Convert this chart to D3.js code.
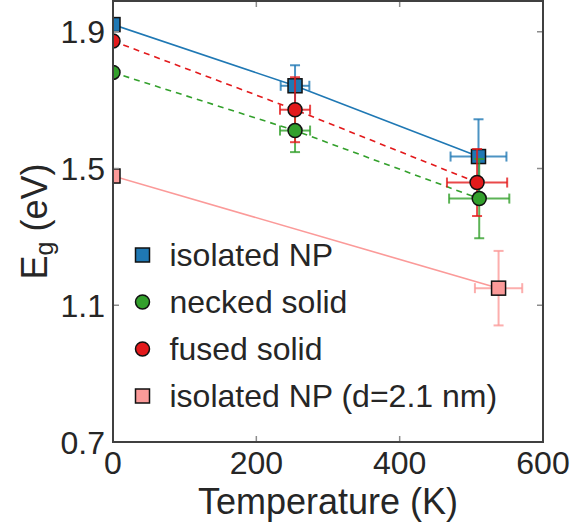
<!DOCTYPE html>
<html>
<head>
<meta charset="utf-8">
<script src="https://cdn.jsdelivr.net/npm/d3@7"></script>
<style>
  body { margin: 0; background: #fff; }
  text { font-family: "Liberation Sans", Arial, sans-serif; fill: #262626; }
</style>
</head>
<body>
<div id="chart"></div>
<script>
// series labels (legend order)
const seriesNames = ["isolated NP", "necked solid", "fused solid", "isolated NP (d=2.1 nm)"];

// isolated NP
const isoT = [0, 254, 510];
const isoEg = [1.921, 1.742, 1.535];
const isoTErr = [0, 20, 39];
const isoEgErr = [0, 0.06, 0.109];

// necked solid
const neckT = [0, 254, 511];
const neckEg = [1.781, 1.611, 1.412];
const neckTErr = [0, 21, 42];
const neckEgErr = [0, 0.063, 0.116];

// fused solid
const fusedT = [0, 254, 508];
const fusedEg = [1.873, 1.672, 1.459];
const fusedTErr = [0, 21, 42];
const fusedEgErr = [0, 0.095, 0.098];

// isolated NP, d = 2.1 nm
const smallT = [0, 538];
const smallEg = [1.478, 1.150];
const smallTErr = [0, 33];
const smallEgErr = [0, 0.109];

const xTicks = [0, 200, 400, 600];
const yTicks = [0.7, 1.1, 1.5, 1.9];

const W = 573, H = 522;
const margin = { top: 1, right: 30, bottom: 80, left: 113 };
const iw = W - margin.left - margin.right;
const ih = H - margin.top - margin.bottom;

const svg = d3.select("#chart").append("svg")
  .attr("width", W).attr("height", H);

const x = d3.scaleLinear().domain([0, 600]).range([0, iw]);
const y = d3.scaleLinear().domain([0.7, 1.99]).range([ih, 0]);

const g = svg.append("g").attr("transform", `translate(${margin.left},${margin.top})`);

svg.append("defs").append("clipPath").attr("id", "plotclip")
  .append("rect").attr("width", iw).attr("height", ih);

const zip = (T, E, Te, Ee) => T.map((t, i) => ({ t, e: E[i], te: Te[i], ee: Ee[i] }));

const series = [
  { name: seriesNames[0], color: "#1f78b4", shape: "square", dash: null, pts: zip(isoT, isoEg, isoTErr, isoEgErr) },
  { name: seriesNames[1], color: "#33a02c", shape: "circle", dash: "6,5", pts: zip(neckT, neckEg, neckTErr, neckEgErr) },
  { name: seriesNames[2], color: "#e31a1c", shape: "circle", dash: "6,5", pts: zip(fusedT, fusedEg, fusedTErr, fusedEgErr) },
  { name: seriesNames[3], color: "#fb9a99", shape: "square", dash: null, pts: zip(smallT, smallEg, smallTErr, smallEgErr) }
];

const plot = g.append("g").attr("clip-path", "url(#plotclip)");
const line = d3.line().x(d => x(d.t)).y(d => y(d.e));

function drawLine(s) {
  plot.append("path").datum(s.pts)
    .attr("d", line)
    .attr("fill", "none")
    .attr("stroke", s.color)
    .attr("stroke-width", 1.6)
    .attr("stroke-dasharray", s.dash);
}

function drawErr(s) {
  const eg = plot.append("g")
    .attr("stroke", s.color).attr("stroke-width", 2).attr("stroke-opacity", 0.8);
  const cap = 5;
  s.pts.filter(d => d.te > 0 || d.ee > 0).forEach(d => {
    const cx = x(d.t), cy = y(d.e);
    const x0 = x(d.t - d.te), x1 = x(d.t + d.te);
    const y0 = y(d.e - d.ee), y1 = y(d.e + d.ee);
    eg.append("line").attr("x1", x0).attr("x2", x1).attr("y1", cy).attr("y2", cy);
    eg.append("line").attr("x1", cx).attr("x2", cx).attr("y1", y0).attr("y2", y1);
    eg.append("line").attr("x1", x0).attr("x2", x0).attr("y1", cy - cap).attr("y2", cy + cap);
    eg.append("line").attr("x1", x1).attr("x2", x1).attr("y1", cy - cap).attr("y2", cy + cap);
    eg.append("line").attr("x1", cx - cap).attr("x2", cx + cap).attr("y1", y0).attr("y2", y0);
    eg.append("line").attr("x1", cx - cap).attr("x2", cx + cap).attr("y1", y1).attr("y2", y1);
  });
}

function marker(sel, s, cx, cy, size) {
  if (s.shape === "square") {
    sel.append("rect")
      .attr("x", cx - size / 2).attr("y", cy - size / 2)
      .attr("width", size).attr("height", size)
      .attr("fill", s.color).attr("stroke", "#111").attr("stroke-width", 1.5);
  } else {
    sel.append("circle")
      .attr("cx", cx).attr("cy", cy).attr("r", size / 2)
      .attr("fill", s.color).attr("stroke", "#111").attr("stroke-width", 1.5);
  }
}

function drawMarkers(s) {
  s.pts.forEach(d => marker(plot, s, x(d.t), y(d.e), 14));
}

// blue and pink first, then dashed series with their markers on top
const [iso, neck, fused, small] = series;
[iso, small].forEach(s => { drawLine(s); drawErr(s); drawMarkers(s); });
[neck, fused].forEach(drawLine);
[neck, fused].forEach(drawErr);
[fused, neck].forEach(drawMarkers);

// frame + inward ticks on all four sides
const tickLen = 6;
const ticks = g.append("g").attr("stroke", "#8c8c8c").attr("stroke-width", 1.5);
xTicks.forEach(t => {
  ticks.append("line").attr("x1", x(t)).attr("x2", x(t)).attr("y1", ih).attr("y2", ih - tickLen);
  ticks.append("line").attr("x1", x(t)).attr("x2", x(t)).attr("y1", 0).attr("y2", tickLen);
});
yTicks.forEach(t => {
  ticks.append("line").attr("x1", 0).attr("x2", tickLen).attr("y1", y(t)).attr("y2", y(t));
  ticks.append("line").attr("x1", iw).attr("x2", iw - tickLen).attr("y1", y(t)).attr("y2", y(t));
});

g.append("rect").attr("width", iw).attr("height", ih)
  .attr("fill", "none").attr("stroke", "#404040").attr("stroke-width", 2);

// tick labels
g.append("g").selectAll("text").data(xTicks).join("text")
  .attr("x", d => x(d)).attr("y", ih + 32)
  .attr("text-anchor", "middle").style("font-size", "32px")
  .text(d => d);

g.append("g").selectAll("text").data(yTicks).join("text")
  .attr("x", -8).attr("y", d => y(d)).attr("dy", "0.36em")
  .attr("text-anchor", "end").style("font-size", "32px")
  .text(d3.format(".1f"));

// axis titles
g.append("text")
  .attr("x", iw / 2).attr("y", ih + 72)
  .attr("text-anchor", "middle").style("font-size", "36px")
  .text("Temperature (K)");

const yl = g.append("text")
  .attr("transform", `translate(-66,${ih / 2}) rotate(-90)`)
  .attr("text-anchor", "middle").style("font-size", "36px");
yl.append("tspan").text("E");
yl.append("tspan").attr("dy", "0.25em").style("font-size", "25px").text("g");
yl.append("tspan").attr("dy", "-0.18em").text(" (eV)");

// legend
const leg = g.append("g").attr("transform", `translate(${142.5 - margin.left},${255 - margin.top})`);
series.forEach((s, i) => {
  const row = leg.append("g").attr("transform", `translate(0,${i * 47})`);
  marker(row, s, 0, 0, 14);
  row.append("text").attr("x", 27).attr("y", 0).attr("dy", "0.35em")
    .style("font-size", "32px").text(s.name);
});
</script>
</body>
</html>
